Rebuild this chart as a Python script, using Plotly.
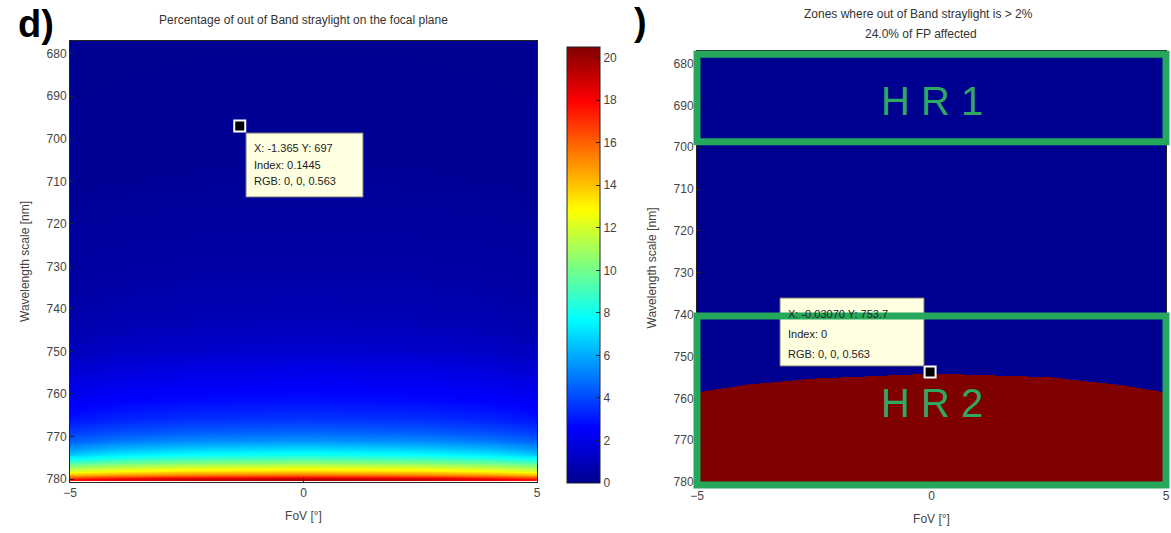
import plotly.graph_objects as go

# ---------------- data ----------------
fov = [-5, -4, -2.5, 0, 2.5, 4, 5]
wavelength = [680, 690, 700, 710, 720, 730, 740, 745, 750, 754, 758, 762, 766,
              769, 771, 773, 774, 775, 776, 777, 778, 779, 780]
# percentage of out-of-band straylight (rows = wavelength, cols = FoV)
straylight_pct = [
    [0.08, 0.09, 0.10, 0.10, 0.10, 0.09, 0.08],
    [0.10, 0.11, 0.12, 0.12, 0.12, 0.11, 0.10],
    [0.12, 0.13, 0.14, 0.15, 0.14, 0.13, 0.12],
    [0.17, 0.19, 0.21, 0.22, 0.21, 0.19, 0.17],
    [0.26, 0.30, 0.33, 0.35, 0.33, 0.30, 0.26],
    [0.40, 0.47, 0.52, 0.55, 0.52, 0.47, 0.40],
    [0.60, 0.71, 0.80, 0.85, 0.80, 0.71, 0.60],
    [0.78, 0.92, 1.04, 1.10, 1.04, 0.92, 0.78],
    [1.05, 1.25, 1.41, 1.50, 1.41, 1.25, 1.05],
    [1.45, 1.70, 1.87, 2.00, 1.91, 1.70, 1.45],
    [1.95, 2.15, 2.31, 2.40, 2.33, 2.15, 1.95],
    [2.35, 2.60, 2.79, 2.90, 2.79, 2.60, 2.35],
    [2.90, 3.22, 3.46, 3.60, 3.46, 3.22, 2.90],
    [3.70, 4.11, 4.42, 4.60, 4.42, 4.11, 3.70],
    [4.50, 5.00, 5.38, 5.60, 5.38, 5.00, 4.50],
    [5.70, 6.29, 6.74, 7.00, 6.74, 6.29, 5.70],
    [6.50, 7.13, 7.62, 7.90, 7.62, 7.13, 6.50],
    [7.60, 8.23, 8.72, 9.00, 8.72, 8.23, 7.60],
    [8.90, 9.53, 10.02, 10.30, 10.02, 9.53, 8.90],
    [10.40, 11.03, 11.52, 11.80, 11.52, 11.03, 10.40],
    [12.10, 12.78, 13.30, 13.60, 13.30, 12.78, 12.10],
    [14.30, 14.98, 15.50, 15.80, 15.50, 14.98, 14.30],
    [17.50, 18.40, 19.10, 19.50, 19.10, 18.40, 17.50],
]
threshold_pct = 2.0
colorbar_ticks = [0, 2, 4, 6, 8, 10, 12, 14, 16, 18, 20]
y_ticks = [680, 690, 700, 710, 720, 730, 740, 750, 760, 770, 780]
x_ticks = [-5, 0, 5]

tip1 = {"x": -1.365, "y": 697, "lines": ["X: -1.365 Y: 697", "Index: 0.1445", "RGB: 0, 0, 0.563"]}
tip2 = {"x": -0.03, "y": 753.7, "lines": ["X: -0.03070 Y: 753.7", "Index: 0", "RGB: 0, 0, 0.563"]}

zones = [
    {"name": "H R 1", "top": 677.8, "bottom": 698.7, "label_y": 689},
    {"name": "H R 2", "top": 740.3, "bottom": 780.7, "label_y": 761},
]

# ---------------- style ----------------
W, H = 1171, 533
FONT = "Liberation Sans, Arial, sans-serif"
YR = [780.7, 677.0]
jet = [
    [0.0, "rgb(0,0,143)"], [0.125, "rgb(0,0,255)"], [0.375, "rgb(0,255,255)"],
    [0.625, "rgb(255,255,0)"], [0.875, "rgb(255,0,0)"], [1.0, "rgb(128,0,0)"],
]
binary = [[0, "rgb(0,0,144)"], [0.5, "rgb(0,0,144)"], [0.5, "rgb(128,0,0)"], [1, "rgb(128,0,0)"]]
GREEN = "#25a85c"


def px(x):
    return x / W


def py(y):
    return 1 - y / H


x1_dom = [px(70), px(537)]
y1_dom = [py(482), py(41)]
x2_dom = [px(697), px(1166)]
y2_dom = [py(485), py(51)]

fig = go.Figure()

fig.add_trace(go.Heatmap(
    x=fov, y=wavelength, z=straylight_pct, zsmooth="best",
    colorscale=jet, zmin=0, zmax=20.5, xaxis="x", yaxis="y",
    colorbar=dict(
        x=px(567), xanchor="left", thickness=33, thicknessmode="pixels",
        len=436 / H, lenmode="fraction", y=py(265), yanchor="middle",
        tickvals=colorbar_ticks, ticks="inside", ticklen=4, tickcolor="#222",
        outlinecolor="#222", outlinewidth=1, xpad=0, ypad=0,
        tickfont=dict(family=FONT, size=12, color="#444"),
    ),
    hoverinfo="skip",
))

fig.add_trace(go.Heatmap(
    x=fov, y=wavelength, z=straylight_pct, zsmooth="best",
    colorscale=binary, zmin=0, zmax=2 * threshold_pct, showscale=False,
    xaxis="x2", yaxis="y2", hoverinfo="skip",
))

for tip, xa, ya in [(tip1, "x", "y"), (tip2, "x2", "y2")]:
    fig.add_trace(go.Scatter(
        x=[tip["x"]], y=[tip["y"]], mode="markers", xaxis=xa, yaxis=ya,
        marker=dict(symbol="square", size=11, color="black", line=dict(color="white", width=2)),
        showlegend=False, hoverinfo="skip",
    ))

axis_common = dict(
    showgrid=False, zeroline=False, showline=True, mirror=True, linecolor="#222",
    linewidth=1, ticks="inside", ticklen=4, tickcolor="#222", automargin=False,
    tickfont=dict(family=FONT, size=12, color="#444"),
)
tfont = dict(family=FONT, size=12, color="#444")
fig.update_layout(
    width=W, height=H, margin=dict(l=0, r=0, t=0, b=0, autoexpand=False),
    paper_bgcolor="white", plot_bgcolor="white", showlegend=False,
    xaxis=dict(domain=x1_dom, range=[-5, 5], tickvals=x_ticks, anchor="y",
               title=dict(text="FoV [°]", standoff=12, font=tfont), **axis_common),
    yaxis=dict(domain=y1_dom, range=YR, tickvals=y_ticks, anchor="x",
               title=dict(text="Wavelength scale [nm]", standoff=14, font=tfont), **axis_common),
    xaxis2=dict(domain=x2_dom, range=[-5, 5], tickvals=x_ticks, anchor="y2",
                title=dict(text="FoV [°]", standoff=12, font=tfont), **axis_common),
    yaxis2=dict(domain=y2_dom, range=YR, tickvals=y_ticks, anchor="x2",
                title=dict(text="Wavelength scale [nm]", standoff=14, font=tfont), **axis_common),
)


def yfrac(w):
    return (YR[0] - w) / (YR[0] - YR[1])


shapes = []
# data-tip boxes (drawn before the green zones so the zone outline sits on top)
shapes.append(dict(type="rect", xref="paper", yref="paper", x0=px(246), x1=px(363), y0=py(197), y1=py(133),
                   fillcolor="#ffffe1", line=dict(color="#777", width=1), layer="above"))
shapes.append(dict(type="rect", xref="paper", yref="paper", x0=px(780), x1=px(924), y0=py(366), y1=py(298),
                   fillcolor="#ffffe1", line=dict(color="#777", width=1), layer="above"))
for z in zones:
    shapes.append(dict(type="rect", xref="x2 domain", yref="y2 domain", x0=0, x1=1,
                       y0=yfrac(min(z["bottom"], YR[0])), y1=yfrac(z["top"]),
                       line=dict(color=GREEN, width=7), fillcolor="rgba(0,0,0,0)", layer="above"))
fig.update_layout(shapes=shapes)

ann = []


def add_text(text, x, y, size=12, color="#333", xanchor="center", bold=False):
    f = dict(family=FONT, size=size, color=color)
    if bold:
        f["weight"] = "bold"
    ann.append(dict(text=text, x=px(x), y=py(y), xref="paper", yref="paper", xanchor=xanchor,
                    yanchor="middle", showarrow=False, font=f))


add_text("d)", 16, 24, size=38, color="black", xanchor="left", bold=True)
add_text(")", 632, 22, size=38, color="black", xanchor="left", bold=True)
add_text("Percentage of out of Band straylight on the focal plane", 303, 20)
add_text("Zones where out of Band straylight is > 2%", 918, 14)
add_text("24.0% of FP affected", 921, 34)
for z in zones:
    ann.append(dict(text=z["name"], x=0, y=z["label_y"], xref="x2", yref="y2", showarrow=False,
                    xanchor="center", yanchor="middle",
                    font=dict(family=FONT, size=40, color="#2fa862")))
for lines, x0, ys in [(tip1["lines"], 252, [148, 165, 181]), (tip2["lines"], 786, [314, 334, 354])]:
    for t, yy in zip(lines, ys):
        add_text(t, x0, yy, size=11, color="#222", xanchor="left")
fig.update_layout(annotations=ann)

fig.write_html("out.html", config={"displayModeBar": False},
               post_script="document.body.style.margin='0px';")
